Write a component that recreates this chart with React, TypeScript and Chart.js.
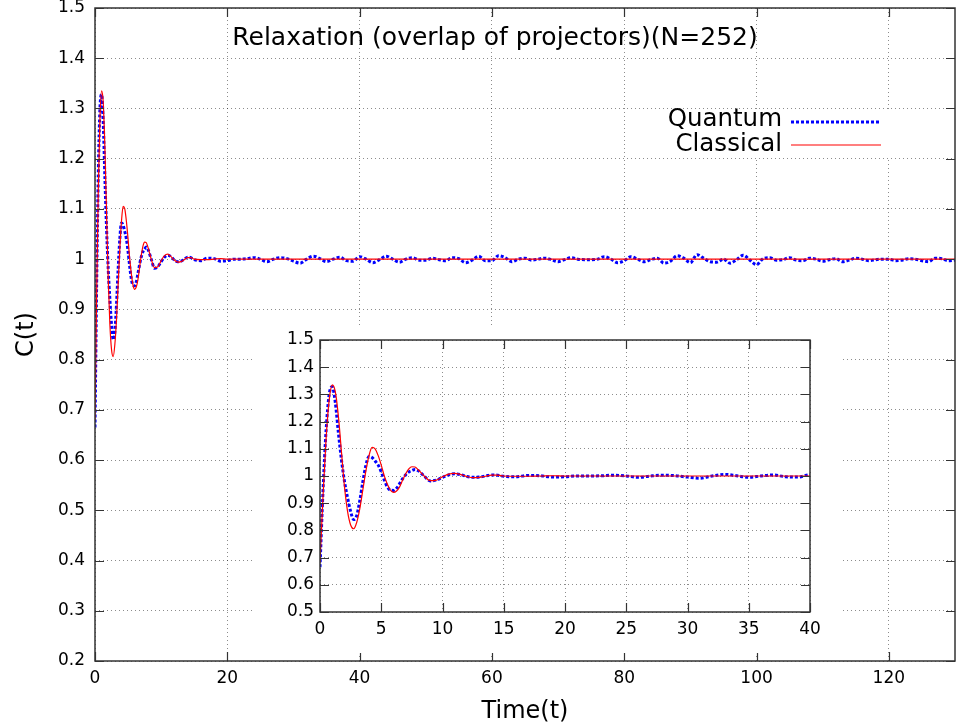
import React, { useEffect, useRef } from "react";
import { Chart, registerables } from "chart.js";
Chart.register(...registerables);

const FONT = "'DejaVu Sans', 'Liberation Sans', sans-serif";

// time grid shared by the early part of both series
const earlyTimes = [
  0, 0.25, 0.5, 0.75, 1, 1.25, 1.5, 1.75, 2, 2.25, 2.5, 2.75, 3, 3.25, 3.5, 3.75,
  4, 4.25, 4.5, 4.75, 5, 5.25, 5.5, 5.75, 6, 6.25, 6.5, 6.75, 7, 7.25, 7.5, 7.75,
  8, 8.5, 9, 9.5, 10, 10.5, 11, 11.5, 12, 12.5, 13, 13.5, 14, 14.5, 15,
];
const quantumEarly = [
  0.665, 0.95, 1.17, 1.3, 1.328, 1.27, 1.16, 1.06, 0.98, 0.92, 0.87, 0.84, 0.855, 0.91, 0.98, 1.04,
  1.072, 1.068, 1.055, 1.04, 1.015, 0.985, 0.96, 0.948, 0.947, 0.955, 0.972, 0.99, 1.005, 1.015, 1.02, 1.024,
  1.02, 1.0, 0.982, 0.985, 0.995, 1.004, 1.008, 1.005, 0.998, 0.995, 0.996, 1.0, 1.004, 1.003, 0.999,
];
const classicalEarly = [
  0.68, 0.93, 1.14, 1.28, 1.335, 1.31, 1.22, 1.09, 0.96, 0.87, 0.82, 0.806, 0.83, 0.88, 0.95, 1.02,
  1.075, 1.105, 1.1, 1.075, 1.04, 1.0, 0.97, 0.948, 0.94, 0.945, 0.96, 0.985, 1.008, 1.026, 1.034, 1.033,
  1.024, 1.0, 0.983, 0.985, 0.997, 1.007, 1.01, 1.005, 0.998, 0.994, 0.995, 0.999, 1.003, 1.003, 1.0,
];
const lateTimes = [
  16, 17, 18, 19, 20, 21, 22, 23, 24, 25, 26, 27, 28, 29, 30, 31, 32, 33, 34, 35,
  36, 37, 38, 39, 40, 41, 42, 43, 44, 45, 46, 47, 48, 49, 50, 51, 52, 53, 54, 55,
  56, 57, 58, 59, 60, 61, 62, 63, 64, 65, 66, 67, 68, 69, 70, 71, 72, 73, 74, 75,
  76, 77, 78, 79, 80, 81, 82, 83, 84, 85, 86, 87, 88, 89, 90, 91, 92, 93, 94, 95,
  96, 97, 98, 99, 100, 101, 102, 103, 104, 105, 106, 107, 108, 109, 110, 111, 112, 113, 114, 115,
  116, 117, 118, 119, 120, 121, 122, 123, 124, 125, 126, 127, 128, 129, 130,
];
const quantumLate = [
  0.997, 1.002, 1.001, 0.996, 0.997, 1.0, 1.0, 1.001, 1.003, 1.0, 0.995, 1.0, 1.003, 1.001, 0.996, 0.992, 1.0, 1.006, 1.001, 0.995,
  1.0, 1.004, 0.997, 0.996, 1.005, 1.0, 0.993, 0.999, 1.006, 1.0, 0.994, 1.0, 1.003, 0.998, 0.998, 1.002, 0.999, 0.997, 1.003, 1.001,
  0.993, 0.998, 1.006, 0.997, 0.997, 1.007, 1.003, 0.995, 1.0, 1.002, 0.998, 1.0, 1.002, 0.999, 0.995, 0.999, 1.003, 1.0, 0.999, 0.999,
  1.0, 1.005, 1.0, 0.993, 0.997, 1.005, 1.0, 0.995, 0.999, 1.002, 0.992, 0.996, 1.007, 1.002, 0.993, 1.009, 1.002, 0.995, 0.994, 1.0,
  0.992, 0.999, 1.008, 0.998, 0.989, 1.001, 1.003, 0.998, 0.999, 1.003, 0.998, 0.997, 1.002, 1.0, 0.996, 0.999, 1.001, 0.995, 0.998, 1.002,
  1.0, 0.997, 0.999, 1.0, 1.0, 0.997, 0.998, 1.001, 1.0, 0.997, 0.995, 1.002, 1.001, 0.997, 0.998,
];
const classicalTailTimes = [16, 17, 18, 19, 20, 25, 30, 40, 50, 60, 70, 80, 90, 100, 110, 120, 130];
const classicalTail = [0.999, 0.999, 1.0, 1.001, 1.0, 1.0, 1.0, 1.0, 1.0, 1.0, 1.0, 1.0, 1.0, 1.0, 1.0, 1.0, 1.0];

const mainXTicks = [0, 20, 40, 60, 80, 100, 120];
const mainYTicks = [0.2, 0.3, 0.4, 0.5, 0.6, 0.7, 0.8, 0.9, 1.0, 1.1, 1.2, 1.3, 1.4, 1.5];
const insetXTicks = [0, 5, 10, 15, 20, 25, 30, 35, 40];
const insetYTicks = [0.5, 0.6, 0.7, 0.8, 0.9, 1.0, 1.1, 1.2, 1.3, 1.4, 1.5];

const titleText = "Relaxation (overlap of projectors)(N=252)";
const seriesNames = ["Quantum", "Classical"];

const BLUE = "#0000ff";
const RED = "#ff0000";

const toPoints = (xs: number[], ys: number[]) => xs.map((x, i) => ({ x, y: ys[i] }));
const quantumPts = toPoints([...earlyTimes, ...lateTimes], [...quantumEarly, ...quantumLate]);
const classicalPts = toPoints([...earlyTimes, ...classicalTailTimes], [...classicalEarly, ...classicalTail]);

const fmt = (v: number) => String(Math.round(v * 10) / 10);

function framePlugin(tickLen: number) {
  return {
    id: "frame",
    afterDraw(chart: any) {
      const { ctx, chartArea: a, scales } = chart;
      ctx.save();
      ctx.strokeStyle = "#333";
      ctx.lineWidth = 1.2;
      ctx.setLineDash([]);
      ctx.beginPath();
      for (const t of scales.x.ticks) {
        const px = Math.round(scales.x.getPixelForValue(t.value)) + 0.5;
        ctx.moveTo(px, a.bottom);
        ctx.lineTo(px, a.bottom - tickLen);
        ctx.moveTo(px, a.top);
        ctx.lineTo(px, a.top + tickLen);
      }
      for (const t of scales.y.ticks) {
        const py = Math.round(scales.y.getPixelForValue(t.value)) + 0.5;
        ctx.moveTo(a.left, py);
        ctx.lineTo(a.left + tickLen, py);
        ctx.moveTo(a.right, py);
        ctx.lineTo(a.right - tickLen, py);
      }
      ctx.stroke();
      ctx.lineWidth = 1.5;
      ctx.strokeRect(a.left, a.top, a.right - a.left, a.bottom - a.top);
      ctx.restore();
    },
  };
}

const mainDecor = {
  id: "mainDecor",
  afterDraw(chart: any) {
    const { ctx, chartArea: a } = chart;
    ctx.save();
    // title
    ctx.fillStyle = "#000";
    ctx.font = `25px ${FONT}`;
    ctx.textAlign = "center";
    ctx.textBaseline = "middle";
    ctx.fillText(titleText, a.left + 400, 38);
    // legend
    const lineEnd = a.right - 74;
    const lineStart = lineEnd - 90;
    const textRight = lineStart - 9;
    ctx.fillStyle = "#fff";
    ctx.fillRect(textRight - 125, 111, lineEnd - textRight + 140, 46);
    ctx.fillStyle = "#000";
    ctx.font = `24.5px ${FONT}`;
    ctx.textAlign = "right";
    ctx.fillText(seriesNames[0], textRight, 120);
    ctx.fillText(seriesNames[1], textRight, 145);
    ctx.strokeStyle = BLUE;
    ctx.lineWidth = 3;
    ctx.setLineDash([3, 2]);
    ctx.beginPath();
    ctx.moveTo(lineStart, 122);
    ctx.lineTo(lineEnd, 122);
    ctx.stroke();
    ctx.strokeStyle = RED;
    ctx.lineWidth = 1.2;
    ctx.setLineDash([]);
    ctx.beginPath();
    ctx.moveTo(lineStart, 145);
    ctx.lineTo(lineEnd, 145);
    ctx.stroke();
    ctx.restore();
  },
};

const whiteBg = {
  id: "whiteBg",
  beforeDraw(chart: any) {
    const { ctx, width, height } = chart;
    ctx.save();
    ctx.fillStyle = "#fff";
    ctx.fillRect(0, 0, width, height);
    ctx.restore();
  },
};

function datasets() {
  return [
    {
      label: seriesNames[1],
      data: classicalPts,
      borderColor: RED,
      borderWidth: 1.2,
      pointRadius: 0,
      fill: false,
      cubicInterpolationMode: "monotone" as const,
    },
    {
      label: seriesNames[0],
      data: quantumPts,
      borderColor: BLUE,
      borderWidth: 3,
      borderDash: [3, 2],
      pointRadius: 0,
      fill: false,
      cubicInterpolationMode: "monotone" as const,
    },
  ];
}

function scaleOpts(
  min: number,
  max: number,
  ticks: number[],
  fontSize: number,
  padding: number,
  fitSize: number,
  axis: "x" | "y",
  title?: any
) {
  return {
    type: "linear" as const,
    min,
    max,
    afterBuildTicks: (s: any) => {
      s.ticks = ticks.map((v) => ({ value: v }));
    },
    afterFit: (s: any) => {
      if (axis === "x") {
        s.height = fitSize;
        s.paddingLeft = 0;
        s.paddingRight = 0;
      } else {
        s.width = fitSize;
        s.paddingTop = 0;
        s.paddingBottom = 0;
      }
    },
    ticks: {
      color: "#000",
      font: { family: FONT, size: fontSize },
      padding,
      autoSkip: false,
      maxRotation: 0,
      callback: (v: any) => fmt(Number(v)),
    },
    grid: {
      color: "rgba(0,0,0,0.45)",
      lineWidth: 1,
      drawTicks: false,
      borderDash: [1, 3],
    },
    border: { display: false, dash: [1, 3] },
    title,
  };
}

export default function App() {
  const mainRef = useRef<HTMLCanvasElement>(null);
  const insetRef = useRef<HTMLCanvasElement>(null);

  useEffect(() => {
    const main = new Chart(mainRef.current!, {
      type: "line",
      data: { datasets: datasets() },
      options: {
        animation: false,
        responsive: false,
        devicePixelRatio: 1,
        layout: { padding: { top: 8, right: 1, bottom: 0, left: 0 } },
        plugins: { legend: { display: false }, tooltip: { enabled: false } },
        scales: {
          x: scaleOpts(0, 130, mainXTicks, 17, 7, 65, "x", {
            display: true,
            text: "Time(t)",
            color: "#000",
            font: { family: FONT, size: 24 },
            padding: { top: 0, bottom: 0 },
          }),
          y: scaleOpts(0.2, 1.5, mainYTicks, 17, 10, 95, "y", {
            display: true,
            text: "C(t)",
            color: "#000",
            font: { family: FONT, size: 24 },
            padding: { top: 12, bottom: 0 },
          }),
        },
      },
      plugins: [framePlugin(9), mainDecor],
    });
    const inset = new Chart(insetRef.current!, {
      type: "line",
      data: { datasets: datasets() },
      options: {
        animation: false,
        responsive: false,
        devicePixelRatio: 1,
        layout: { padding: { top: 12, right: 33, bottom: 0, left: 0 } },
        plugins: { legend: { display: false }, tooltip: { enabled: false } },
        scales: {
          x: scaleOpts(0, 40, insetXTicks, 17, 7, 41, "x"),
          y: scaleOpts(0.5, 1.5, insetYTicks, 17, 6, 65, "y"),
        },
      },
      plugins: [whiteBg, framePlugin(9)],
    });
    return () => {
      main.destroy();
      inset.destroy();
    };
  }, []);

  return (
    <div style={{ position: "absolute", left: 0, top: 0, width: 956, height: 726, background: "#fff" }}>
      <canvas ref={mainRef} width={956} height={726} style={{ position: "absolute", left: 0, top: 0 }} />
      <canvas ref={insetRef} width={588} height={325} style={{ position: "absolute", left: 255, top: 328 }} />
    </div>
  );
}
